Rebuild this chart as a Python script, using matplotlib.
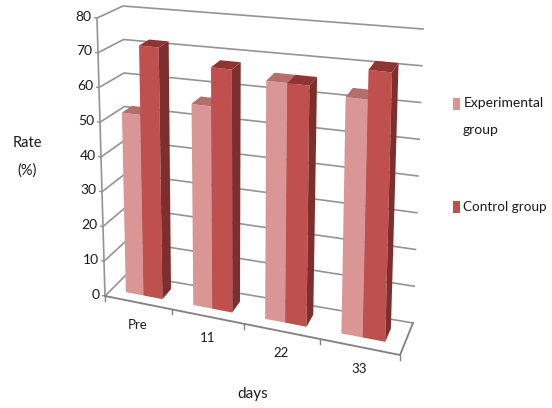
import numpy as np
import matplotlib
matplotlib.use("Agg")
import matplotlib.pyplot as plt
from matplotlib.patches import Polygon

plt.rcParams['font.family'] = ['Lato', 'DejaVu Sans']

days = ['Pre', '11', '22', '33']
experimental = [52, 57, 66, 64]
control = [72, 68, 66, 72]
yticks = list(range(0, 90, 10))

# corners of the chart box in picture pixels: (front/back, bottom/top, left/right)
FBL = np.array([105, 296.0]); FBR = np.array([400, 355.0])
FTL = np.array([97, 18.0]);   FTR = np.array([408, 51.0])
BBL = np.array([127, 274.0]); BBR = np.array([413, 323.0])
BTL = np.array([123, 6.0]);   BTR = np.array([423, 29.0])


def proj(x, d, v):
    # x = category position 0..4, d = depth 0..1, v = value 0..80
    u = x / 4.0
    u = u*(0.88 + 0.12*u)   # categories get wider to the right
    t = v / 80.0
    front = (FBL*(1-u) + FBR*u)*(1-t) + (FTL*(1-u) + FTR*u)*t
    back = (BBL*(1-u) + BBR*u)*(1-t) + (BTL*(1-u) + BTR*u)*t
    return front*(1-d) + back*d


def box(ax, x0, x1, val, front, side, top, z):
    d0, d1 = 0.3, 0.72
    ax.add_patch(Polygon([proj(x0, d0, 0), proj(x1, d0, 0), proj(x1, d0, val), proj(x0, d0, val)],
                         fc=front, ec='none', zorder=z))
    ax.add_patch(Polygon([proj(x1, d0, 0), proj(x1, d1, 0), proj(x1, d1, val), proj(x1, d0, val)],
                         fc=side, ec='none', zorder=z))
    ax.add_patch(Polygon([proj(x0, d0, val), proj(x1, d0, val), proj(x1, d1, val), proj(x0, d1, val)],
                         fc=top, ec='none', zorder=z))


fig = plt.figure(figsize=(5.52, 4.08), dpi=100)
ax = fig.add_axes([0, 0, 1, 1])
ax.set_xlim(0, 552)
ax.set_ylim(408, 0)
ax.axis('off')

grid = '#949494'
txt = '#1a1a1a'
for v in yticks:
    a, b, c = proj(0, 0, v), proj(0, 1, v), proj(4, 1, v)
    ax.plot([a[0], b[0], c[0]], [a[1], b[1], c[1]], color=grid, lw=1.2, zorder=1)
    t = proj(-0.035, 0, v)
    ax.plot([t[0], a[0]], [t[1], a[1]], color=grid, lw=1.0, zorder=1)
    ax.text(t[0] - 3, t[1] - 1, str(v), ha='right', va='center', fontsize=10, color=txt)

# axis lines and floor
a, b = proj(0, 0, 0), proj(0, 0, 80)
ax.plot([a[0], b[0]], [a[1], b[1]], color=grid, lw=1.2, zorder=1)
a, b, c = proj(0, 0, 0), proj(4, 0, 0), proj(4, 1, 0)
ax.plot([a[0], b[0], c[0]], [a[1], b[1], c[1]], color='#808080', lw=1.3, zorder=1)

for i in range(5):
    p = proj(i, 0, 0)
    ax.plot([p[0], p[0]], [p[1], p[1] + 5], color='#808080', lw=1.0, zorder=1)

for i in range(4):
    box(ax, i + 0.22, i + 0.49, experimental[i], '#D99694', '#A85F5D', '#B36F6D', 3 + i)
    box(ax, i + 0.49, i + 0.77, control[i], '#C0504D', '#7E2F2D', '#8E3432', 3.5 + i)
    p = proj(i + 0.5, 0, 0)
    ax.text(p[0], p[1] + 22, days[i], ha='center', va='center', fontsize=9.5, color=txt)

ax.text(253, 394, 'days', ha='center', va='center', fontsize=11, color=txt)
ax.text(27, 143, 'Rate', ha='center', va='center', fontsize=10.5, color=txt)
ax.text(27, 171, '(%)', ha='center', va='center', fontsize=10.5, color=txt)

# legend
ax.add_patch(Polygon([(453, 98), (460, 98), (460, 110), (453, 110)], fc='#D99694', ec='none'))
ax.add_patch(Polygon([(453, 201), (460, 201), (460, 213), (453, 213)], fc='#C0504D', ec='none'))
ax.text(464, 103, 'Experimental', ha='left', va='center', fontsize=10, color=txt)
ax.text(463, 130, 'group', ha='left', va='center', fontsize=10, color=txt)
ax.text(463, 207, 'Control group', ha='left', va='center', fontsize=9.7, color=txt)

fig.savefig('out.png', dpi=100)
